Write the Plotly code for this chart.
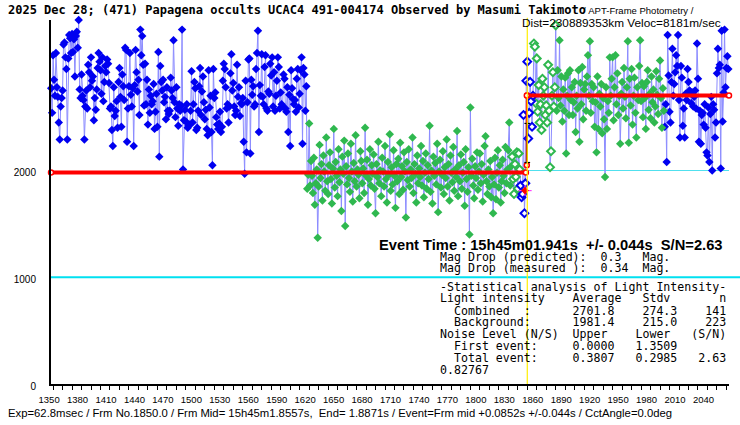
import numpy as np
import plotly.graph_objects as go

# ---- light curve data (frame numbers start + intensities) ----
pre_start = 1347
pre_blue = [
    2630, 2770, 2540, 3080, 2850, 2700, 3100, 2780, 2690, 2450,
    2290, 2600, 2680, 2750, 3180, 3200, 3060, 2950, 2290, 3050,
    3270, 3240, 3100, 3280, 3110, 3230, 2880, 3260, 3300, 3150,
    3410, 2760, 2680, 2900, 2700, 2660, 2290, 2600, 2750, 2580,
    2990, 2920, 2780, 3060, 2840, 2880, 2470, 2680, 2570, 2760,
    2960, 3100, 3020, 2940, 2720, 3060, 2650, 2830, 2980, 2920,
    3040, 3000, 2820, 2580, 2600, 2380, 2230, 2780, 2510, 2560,
    2650, 2400, 2830, 2960, 2690, 2410, 2900, 2790, 2660, 3150,
    3130, 2270, 2580, 2790, 3100, 2710, 2600, 2770, 2230, 2800,
    3130, 2920, 2740, 2850, 2520, 3320, 3080, 3260, 2990, 2610,
    3000, 2620, 2850, 2430, 2760, 2540, 2700, 2620, 2650, 2810,
    2390, 2550, 2720, 2410, 3110, 2130, 2980, 2830, 2750, 2850,
    2640, 2690, 2480, 2780, 2560, 2530, 2560, 2870, 2750, 2680,
    3220, 2640, 2500, 2780, 2580, 2420, 2620, 2560, 2610, 3320,
    2010, 2470, 2570, 2460, 2620, 2400, 2420, 2430, 2560, 2930,
    2450, 2620, 2830, 2770, 2380, 2400, 2560, 2790, 2960, 2520,
    2740, 2880, 2640, 2480, 2570, 2390, 2330, 2940, 2590, 2700,
    2360, 2050, 2950, 2680, 2730, 2500, 2430, 2390, 2440, 2550,
    2360, 2410, 2840, 3000, 2950, 2780, 2580, 2620, 2450, 2600,
    2910, 3090, 2750, 2820, 2600, 2520, 2560, 2990, 2690, 2780,
    2510, 2630, 2620, 2680, 2270, 1970, 2840, 2170, 2640, 3040,
    3050, 2160, 2850, 2710, 2790, 2600, 2620, 2950, 3100, 3310,
    2360, 2800, 2700, 3090, 2690, 2620, 2970, 3080, 2580, 2560,
    2740, 2720, 3000, 2890, 3060, 2600, 2920, 2560, 2700, 2840,
    3060, 2970, 2580, 2730, 2620, 2600, 2900, 2860, 2580, 2550,
    2780, 2360, 2710, 2230, 2940, 2770, 2670, 2620, 2660, 2550,
    2860, 2950, 2590, 2720, 2940, 3060, 2250, 2960, 2900, 2560,
    2790,
]
bg_start = 1618
bg_green = [
    1830, 1960, 2440, 1860, 2090, 1950, 1790, 2120, 1680, 1880,
    2010, 1370, 1850, 2240, 1930, 2060, 1720, 2140, 1990, 1810,
    2310, 1900, 1780, 2050, 2170, 1920, 1690, 2020, 2390, 1840,
    2080, 1950, 1760, 2200, 1890, 2010, 1620, 2130, 1970, 2280,
    1480, 2040, 1870, 2160, 1930, 1800, 2250, 1990, 1710, 2070,
    1900, 2330, 1850, 2010, 1960, 1740, 2180, 2090, 1880, 2020,
    1790, 2400, 1950, 2100, 1680, 1920, 2200, 1860, 2050, 1970,
    2150, 1830, 1600, 2060, 1940, 2270, 1880, 2000, 1760, 2120,
    1990, 1850, 2230, 1920, 1700, 2080, 1960, 2340, 1810, 2030,
    1870, 2190, 1950, 1650, 2060, 1900, 2110, 1780, 2260, 1940,
    2040, 1820, 2170, 1990, 1560, 2080, 1910, 2200, 1850, 2010,
    1930, 2310, 1790, 2060, 1970, 1700, 2140, 1880, 2020, 1940,
    2230, 1860, 2090, 1750, 1980, 2160, 1830, 2050, 1920, 2420,
    1800, 2000, 1690, 2130, 1950, 2070, 1870, 2250, 1610, 1990,
    2100, 1840, 1960, 2180, 1780, 2030, 1930, 2290, 1850, 2060,
    1720, 2140, 1980, 1890, 2220, 1810, 2010, 1940, 2370, 1760,
    2050, 1900, 2150, 1830, 1980, 2080, 1670, 2200, 1920, 1800,
    2030, 1400, 2590, 1950, 2110, 1860, 1740, 2040, 1930, 2170,
    1820, 1990, 2160, 1880, 2060, 1710, 1960, 2230, 2320, 1900,
    1780, 2010, 1850, 2090, 1750, 1940, 1600, 1870, 2120, 1730,
    1980, 2190, 1840, 2050, 1700, 1900, 2100, 1950, 1790, 2220,
    1880, 2010, 2190, 2450, 1860, 2040, 2130, 1920, 1780, 2060,
    1940, 2170, 1830, 2160, 2010,
]
evt_start = 1843
evt_blue = [1860, 1750, 1780, 2520, 1600, 1880, 2840, 3020, 2300, 2540, 2830, 2650, 2410, 2700]
comb_start = 1857
comb_green = [
    3190, 3160, 2630, 3050, 2550, 2800, 2450, 2620, 2380, 2860,
    2700, 2780, 2520, 2610, 2450, 2990, 2560, 2030, 2180, 2700,
    2920, 2600, 2780, 3360, 2560, 2940, 2680, 3220, 2610, 2880,
    2460, 2760, 2560, 2870, 2160, 2700, 2910, 2520, 2940, 2660,
    2780, 2520, 2640, 2830, 2360, 2700, 2580, 2940, 2270, 2820,
    2620, 2970, 2480, 2760, 2810, 2560, 2880, 3080, 2700, 3210,
    2540, 2810, 2650, 2780, 2410, 2640, 2170, 2880, 2390, 2720,
    2600, 2810, 2350, 2680, 2480, 1940, 2780, 2390, 2650, 2540,
    3060, 2700, 2860, 3060, 2470, 2780, 3080, 2620, 2910, 2520,
    2700, 2250, 2720, 2830, 2580, 2960, 2690, 2490, 2780, 3210,
    2260, 2860, 2610, 2950, 2430, 2700, 2870, 2540, 2310, 2780,
    2660, 2980, 3220, 2650, 2820, 2500, 2790, 2680, 2390, 2830,
    2940, 2570, 2720, 2490, 2880, 2640, 2760, 2450, 2600, 2930,
    2710, 2530, 2860, 3030, 2680, 2400, 2770, 2560,
]
post_start = 1995
post_blue = [
    2410, 2620, 2080, 3270, 2890, 2550, 2450, 2830, 3140, 2700,
    2810, 2920, 3080, 2980, 3270, 2660, 2310, 2980, 2870, 2420,
    2580, 2310, 2720, 2660, 2950, 2830, 2750, 2740, 2630, 2730,
    2600, 2690, 2750, 2580, 3190, 2860, 2270, 2560, 2250, 2520,
    2540, 2430, 2620, 2400, 2170, 2140, 2590, 2080, 2530, 2690,
    2000, 2620, 2570, 2310, 2450, 2910, 3140, 2960, 2990, 2020,
    3310, 2460, 2730, 3320, 2780, 2960, 3070, 2950,
]
hollow_ranges = [(1834, 1842), (1857, 1880)]

event_frame = 1850.0
bg_mean = 1981.4
comb_mean = 2701.8
err_lo, err_hi = 2075, 2441
cross_frame, cross_val = 1847.6, 1812
x_min, x_max = 1347.8, 2062.7
y_max = 3410

title_bold = "2025 Dec 28; (471) Papagena occults UCAC4 491-004174 Observed by Masumi Takimoto"
title_rest = "/ APT-Frame Photometry /"
title_line2 = "Dist=230889353km Veloc=8181m/sec"
footer = ("Exp=62.8msec / Frm No.1850.0 / Frm Mid= 15h45m1.8557s,  End= 1.8871s / "
          "Event=Frm mid +0.0852s +/-0.044s / CctAngle=0.0deg")
event_line = "Event Time : 15h45m01.941s  +/- 0.044s  S/N=2.63"
stat_lines = [
    "Mag Drop (predicted):  0.3   Mag.",
    "Mag Drop (measured ):  0.34  Mag.",
    "-Statistical analysis of Light Intensity-",
    "Light intensity    Average   Stdv       n",
    "  Combined  :      2701.8    274.3    141",
    "  Background:      1981.4    215.0    223",
    "Noise Level (N/S)  Upper    Lower   (S/N)",
    "  First event:     0.0000   1.3509",
    "  Total event:     0.3807   0.2985   2.63",
    "0.82767",
]
stat_y = [257, 268.3, 286.7, 298.3, 311, 322.3, 334.3, 346, 358.3, 370]

# ---- build ----
BLUE = "#0000f0"
GREEN = "#2fb84f"
LINE = "#8c8cff"
MONO = "DejaVu Sans Mono"
SANS = "Liberation Sans"

segs = [(pre_start, pre_blue), (bg_start, bg_green), (evt_start, evt_blue),
        (comb_start, comb_green), (post_start, post_blue)]
frames = np.concatenate([np.arange(s, s + len(v)) for s, v in segs])
values = np.concatenate([np.array(v, float) for s, v in segs])

def is_hollow(f):
    return any(a <= f <= b for a, b in hollow_ranges)

fig = go.Figure()

# cyan reference lines
fig.add_shape(type="line", xref="paper", yref="y", x0=0, x1=(740 - 51) / 678,
              y0=1000, y1=1000, line=dict(color="#00e0f0", width=2), layer="below")
fig.add_shape(type="line", xref="x", yref="y", x0=event_frame, x1=x_max,
              y0=2000, y1=2000, line=dict(color="#50e0ee", width=1), layer="below")

fig.add_trace(go.Scatter(x=frames, y=values, mode="lines",
                         line=dict(color=LINE, width=1), hoverinfo="skip"))

groups = [
    ((frames < bg_start) | (frames >= post_start), BLUE, False),
    ((frames >= bg_start) & (frames < evt_start) | (frames >= comb_start) & (frames < post_start),
     GREEN, False),
    ((frames >= evt_start) & (frames < comb_start), BLUE, True),
]
hm = np.array([is_hollow(f) for f in frames])
for mask, col, hollow in groups:
    for hol in (False, True):
        sel = (hm | hollow) if hol else ~(hm | hollow)
        m = mask & sel
        if not m.any():
            continue
        if hol:
            mk = dict(symbol="diamond", size=6, color="white", line=dict(color=col, width=2))
        else:
            mk = dict(symbol="diamond", size=6.5, color=col, line=dict(width=0))
        fig.add_trace(go.Scatter(x=frames[m], y=values[m], mode="markers", marker=mk,
                                 cliponaxis=False, hoverinfo="skip"))

# fitted levels
red = "#ff0000"
ring = dict(symbol="circle", size=5, color="white", line=dict(color=red, width=1.5))
fig.add_trace(go.Scatter(x=[x_min, event_frame - 1.5], y=[bg_mean, bg_mean], mode="lines+markers",
                         line=dict(color=red, width=4), marker=ring, cliponaxis=False))
fig.add_trace(go.Scatter(x=[event_frame, x_max], y=[comb_mean, comb_mean], mode="lines+markers",
                         line=dict(color=red, width=4), marker=ring, cliponaxis=False))
fig.add_trace(go.Scatter(x=[event_frame - 0.5, event_frame - 0.5], y=[2050, comb_mean], mode="lines+markers",
                         line=dict(color=red, width=2), marker=ring))
# timing error bar
fig.add_trace(go.Scatter(
    x=[event_frame - 3, event_frame + 3, None, event_frame, event_frame, None, event_frame - 3, event_frame + 3],
    y=[err_hi, err_hi, None, err_hi, err_lo, None, err_lo, err_lo],
    mode="lines", line=dict(color="black", width=1.2)))
fig.add_trace(go.Scatter(
    x=[cross_frame - 7, cross_frame + 7, None, cross_frame, cross_frame],
    y=[cross_val, cross_val, None, cross_val - 50, cross_val + 50],
    mode="lines", line=dict(color="#ff40ff", width=1.2)))
fig.add_trace(go.Scatter(x=[cross_frame], y=[cross_val], mode="markers",
                         marker=dict(symbol="diamond", size=6, color=red)))

fig.add_shape(type="line", xref="x", yref="paper", x0=event_frame, x1=event_frame,
              y0=0, y1=1.006, line=dict(color="#ffee00", width=1.2), layer="above")

# ---- text ----
L, T, PW, PH = 51, 20, 678, 364

def note(text, x, y, size, family, bold=False, anchor="left"):
    t = text.replace(" ", "\u00a0")
    if bold:
        t = "<b>" + t + "</b>"
    fig.add_annotation(text=t, xref="paper", yref="paper",
                       x=(x - L) / PW, y=(T + PH - y) / PH, xanchor=anchor, yanchor="middle",
                       showarrow=False, borderpad=0,
                       font=dict(family=family, size=size, color="black"))

note(title_bold, 7, 10, 12.0, MONO, bold=True)
note(title_rest, 582, 10, 9.5, SANS)
note(title_line2, 521, 23, 11.8, SANS)
note(event_line, 378, 245, 14.7, SANS, bold=True)
for s, yy in zip(stat_lines, stat_y):
    note(s, 439, yy, 11.6, MONO)
note(footer, 7, 413, 11.3, SANS)

fig.update_layout(
    width=740, height=425,
    margin=dict(l=L, r=740 - L - PW, t=T, b=425 - T - PH),
    paper_bgcolor="white", plot_bgcolor="white",
    showlegend=False,
    xaxis=dict(range=[x_min, x_max], showgrid=False, zeroline=False, automargin=False,
               showline=True, linecolor="black", linewidth=1.5,
               ticks="outside", ticklen=4, tickcolor="black", tickwidth=1,
               tick0=1350, dtick=30, ticklabelshift=-4, ticklabelstandoff=2,
               minor=dict(dtick=10, ticks="outside", ticklen=4, tickcolor="black"),
               tickfont=dict(family=SANS, size=9.5, color="black")),
    yaxis=dict(range=[0, y_max], showgrid=False, zeroline=False, automargin=False,
               showline=True, linecolor="black", linewidth=2,
               tickvals=[0, 1000, 2000], ticks="", ticklabelstandoff=11,
               ticklabelshift=2,
               tickfont=dict(family=SANS, size=10, color="black")),
)

# page body has a default 8px margin; drop it so the figure sits at the window corner
fig.write_html("out.html", config={"displayModeBar": False},
               post_script="document.body.style.margin='0';document.body.style.overflow='hidden';")
